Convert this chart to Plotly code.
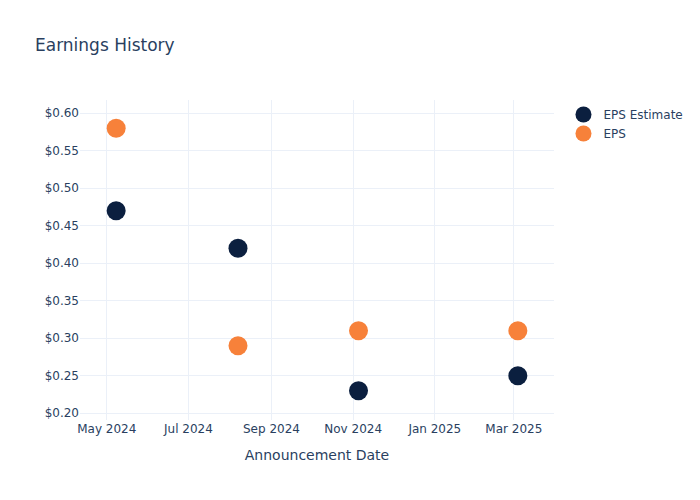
import plotly.graph_objects as go

announce_dates = ["2024-05-08", "2024-08-07", "2024-11-05", "2025-03-04"]
eps_estimate = [0.47, 0.42, 0.23, 0.25]
eps_actual = [0.58, 0.29, 0.31, 0.31]

fig = go.Figure()
fig.add_trace(
    go.Scatter(
        x=announce_dates,
        y=eps_estimate,
        mode="markers",
        name="EPS Estimate",
        marker=dict(color="#0b1f3f", size=19),
    )
)
fig.add_trace(
    go.Scatter(
        x=announce_dates,
        y=eps_actual,
        mode="markers",
        name="EPS",
        marker=dict(color="#f7813a", size=19),
    )
)

fig.update_layout(
    width=700,
    height=500,
    template="plotly_white",
    font=dict(family="DejaVu Sans"),
    title=dict(text="Earnings History", x=0.05, y=0.922),
    margin=dict(l=80, r=80, t=100, b=80),
)
fig.update_xaxes(
    title_text="Announcement Date",
    range=["2024-04-11", "2025-03-31"],
    dtick="M2",
    tickformat="%b %Y",
)
fig.update_yaxes(
    range=[0.191, 0.6177],
    dtick=0.05,
    tickprefix="$",
    tickformat=".2f",
)

# page has a default 8px body margin; drop it so the figure sits at the origin
fig.write_html(
    "out.html",
    config={"displayModeBar": False},
    post_script="document.body.style.margin = '0';",
)
